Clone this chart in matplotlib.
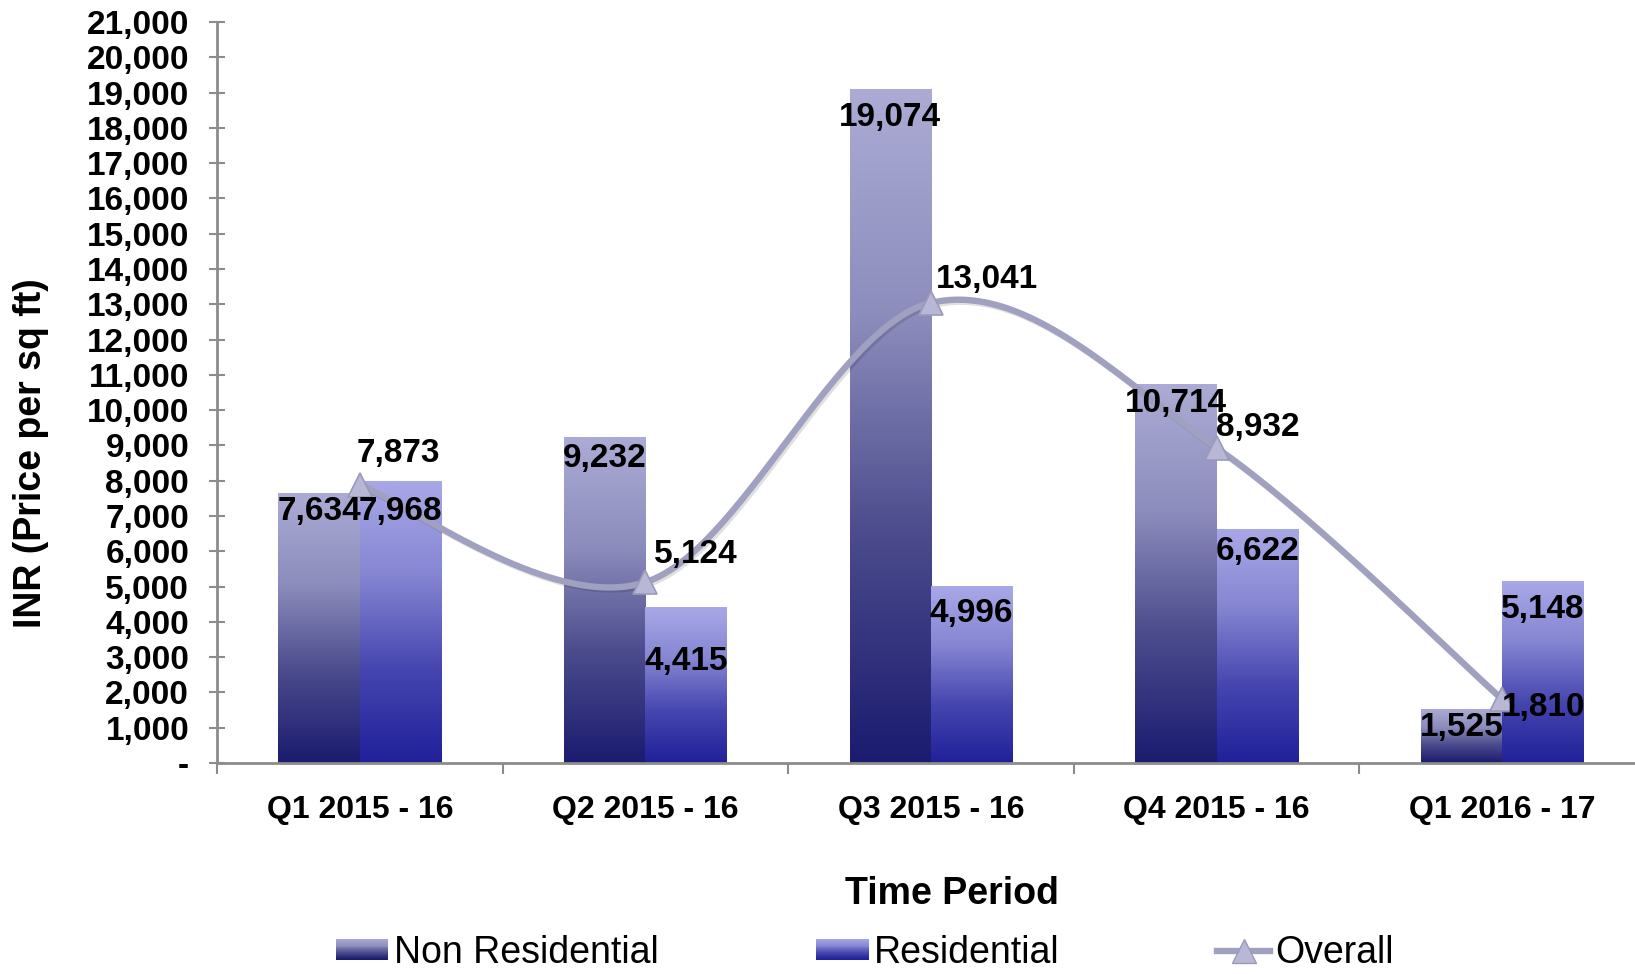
import numpy as np
import matplotlib
matplotlib.use("Agg")
import matplotlib.pyplot as plt
from matplotlib.colors import LinearSegmentedColormap
from matplotlib.patches import Rectangle
from matplotlib.lines import Line2D
from matplotlib.legend_handler import HandlerBase
from matplotlib.ticker import FuncFormatter, FixedLocator
import matplotlib.patheffects as pe

categories = ["Q1 2015 - 16", "Q2 2015 - 16", "Q3 2015 - 16", "Q4 2015 - 16", "Q1 2016 - 17"]
non_residential = [7634, 9232, 19074, 10714, 1525]
residential = [7968, 4415, 4996, 6622, 5148]
overall = [7873, 5124, 13041, 8932, 1810]

# label offsets (points): below bar top / from line point
nr_off = [13, 15, 20, 13, 13]
res_off = [21, 39, 19, 16, 20]
ov_off = [(28, 23), (36, 20), (40, 17), (30, 15), (30, -6)]

plt.rcParams['font.family'] = ['Liberation Sans', 'DejaVu Sans']

nr_cmap = LinearSegmentedColormap.from_list("nr", ["#1b1b70", "#4a4a8c", "#8d8dbd", "#ababd5"])
res_cmap = LinearSegmentedColormap.from_list("res", ["#20209a", "#4646b0", "#8585d2", "#a8a8e8"])

fig = plt.figure(figsize=(16.35, 9.74), dpi=100)
ax = fig.add_axes([0.1327, 0.2166, 0.8734, 0.7608])

x = np.arange(len(categories))
w = 0.285
grad = np.linspace(0, 1, 256).reshape(-1, 1)
for i in x:
    for val, cmap, dx in ((non_residential[i], nr_cmap, -w / 2), (residential[i], res_cmap, w / 2)):
        x0 = i + dx - w / 2
        ax.imshow(grad, extent=[x0, x0 + w, 0, val], origin='lower', aspect='auto',
                  cmap=cmap, zorder=2, interpolation='bilinear')

lbl = dict(fontsize=24, fontweight='bold', ha='center', va='center', color='black', zorder=6)
for i in x:
    ax.annotate(f"{non_residential[i]:,}", (i - w / 2, non_residential[i]), xytext=(0, -nr_off[i]),
                textcoords='offset points', **lbl)
    ax.annotate(f"{residential[i]:,}", (i + w / 2, residential[i]), xytext=(0, -res_off[i]),
                textcoords='offset points', **lbl)

# smoothed line (Catmull-Rom style, like Excel smoothing)
px = x.astype(float)
py = np.array(overall, dtype=float)
cx, cy = [], []
t = np.linspace(0, 1, 60)
for k in range(len(px) - 1):
    p0 = np.array([px[max(k - 1, 0)], py[max(k - 1, 0)]])
    p1 = np.array([px[k], py[k]])
    p2 = np.array([px[k + 1], py[k + 1]])
    p3 = np.array([px[min(k + 2, len(px) - 1)], py[min(k + 2, len(px) - 1)]])
    c1 = p1 + (p2 - p0) / 6
    c2 = p2 - (p3 - p1) / 6
    b = ((1 - t) ** 3)[:, None] * p1 + (3 * (1 - t) ** 2 * t)[:, None] * c1 + \
        (3 * (1 - t) * t ** 2)[:, None] * c2 + (t ** 3)[:, None] * p2
    cx.extend(b[:, 0]); cy.extend(b[:, 1])

line_col = "#a0a0c0"
ax.plot(cx, cy, color=line_col, lw=4.6, zorder=4, solid_capstyle='round',
        path_effects=[pe.SimpleLineShadow(offset=(1.5, -1.5), alpha=0.12), pe.Normal()])
ax.plot(px, py, ls='none', marker='^', ms=17, mfc="#b8b8d6", mec="#9a9ab8", mew=1.2, zorder=5)
for i in x:
    ax.annotate(f"{overall[i]:,}", (px[i], py[i]), xytext=ov_off[i], textcoords='offset points', **lbl)

ax.set_xlim(-0.5, len(categories) - 0.5)
ax.set_ylim(0, 21000)
ax.set_yticks(np.arange(0, 21001, 1000))
ax.yaxis.set_major_formatter(FuncFormatter(lambda v, p: "-" if v == 0 else f"{int(v):,}"))
ax.set_xticks(x)
ax.set_xticklabels(categories)
ax.xaxis.set_minor_locator(FixedLocator(np.arange(-0.5, len(categories), 1.0)))
ax.tick_params(axis='x', which='major', length=0, pad=23, labelsize=23)
ax.tick_params(axis='x', which='minor', length=8, width=1.5, color='#8c8c8c', direction='out')
ax.tick_params(axis='y', which='major', length=12, width=1.5, color='#8c8c8c', direction='inout',
               pad=14, labelsize=24)
for lab in ax.get_xticklabels() + ax.get_yticklabels():
    lab.set_fontweight('bold')

for s in ('top', 'right'):
    ax.spines[s].set_visible(False)
for s in ('left', 'bottom'):
    ax.spines[s].set_color('#8c8c8c')
    ax.spines[s].set_linewidth(2)
ax.set_facecolor('white')

fig.text(0.0191, 0.5343, "INR (Price per sq ft)", rotation=90, ha='center', va='center',
         fontsize=27, fontweight='bold')
fig.text(0.582, 0.082, "Time Period", ha='center', va='center', fontsize=27, fontweight='bold')


class GradHandler(HandlerBase):
    def __init__(self, cmap):
        super().__init__()
        self.cmap = cmap

    def create_artists(self, legend, orig_handle, xdescent, ydescent, width, height, fontsize, trans):
        n = 24
        arts = []
        for j in range(n):
            arts.append(Rectangle((-xdescent, -ydescent + height * j / n), width, height / n * 1.05,
                                  facecolor=self.cmap(j / (n - 1)), edgecolor='none', transform=trans))
        return arts


h_nr = Rectangle((0, 0), 1, 1)
h_res = Rectangle((0, 0), 1, 1, label='r')
h_ov = Line2D([], [], color=line_col, lw=4.6, marker='^', ms=17, mfc="#b8b8d6", mec="#9a9ab8")
fig.legend([h_nr, h_res, h_ov], ["Non Residential", "Residential", "Overall"],
           handler_map={h_nr: GradHandler(nr_cmap), h_res: GradHandler(res_cmap)},
           loc='center', bbox_to_anchor=(0.529, 0.022), ncol=3, frameon=False,
           prop={'size': 27}, handlelength=1.4, handleheight=0.5, handletextpad=0.15,
           columnspacing=4.2, borderpad=0, borderaxespad=0)

fig.savefig("out.png", dpi=100, facecolor='white')
